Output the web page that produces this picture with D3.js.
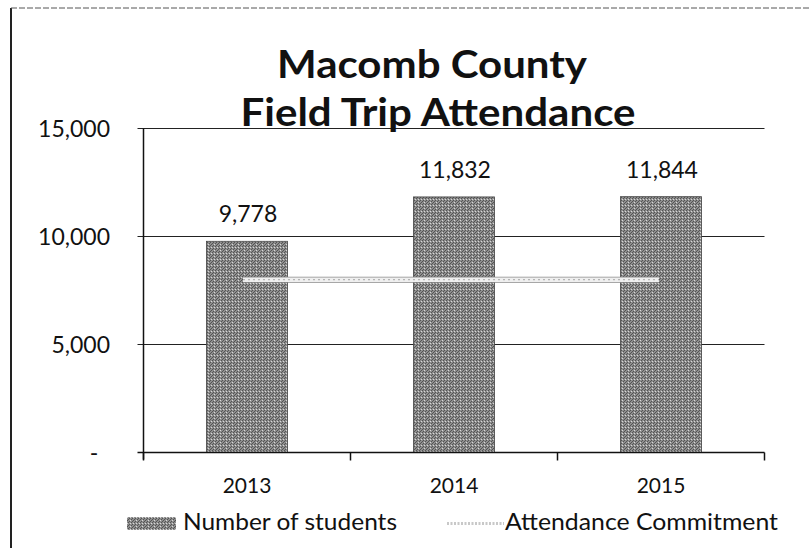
<!DOCTYPE html>
<html><head><meta charset="utf-8">
<script src="https://cdn.jsdelivr.net/npm/d3@7/dist/d3.min.js"></script>
<style>
html,body{margin:0;padding:0;background:#fff;}
svg{display:block;}
text{font-family:Lato,"Open Sans",sans-serif;fill:#111;}
</style></head>
<body><svg id="chart" width="809" height="548"></svg>
<script>
const titleLines = ["Macomb County", "Field Trip Attendance"];
const years = ["2013", "2014", "2015"];
const students = [9778, 11832, 11844];
const commitment = [8000, 8000, 8000];
const yTicks = [0, 5000, 10000, 15000];
const seriesNames = ["Number of students", "Attendance Commitment"];

const svg = d3.select("#chart");
const W = 809, H = 548;
const m = {left:143.5, right:44.5, top:128.5, bottom:95.5};
const x = d3.scaleBand().domain(years).range([m.left, W - m.right]).paddingInner(0).paddingOuter(0);
const y = d3.scaleLinear().domain([0, 15000]).range([H - m.bottom, m.top]);

// texture pattern for bars (fixed dither-like tile)
const defs = svg.append("defs");
const pat = defs.append("pattern").attr("id","tex").attr("patternUnits","userSpaceOnUse").attr("width",6).attr("height",6);
pat.append("rect").attr("width",6).attr("height",6).attr("fill","#8e8e8e");
pat.append("path").attr("d","M0,6 L6,0 M-1,1 L1,-1 M5,7 L7,5 M0,3 L3,0 M3,6 L6,3").attr("stroke","#4e4e4e").attr("stroke-width",0.9);
pat.append("path").attr("d","M1,1h1v1h-1z M4,4h1v1h-1z M4,1h1v1h-1z").attr("fill","#d8d8d8");

// outer border
svg.append("path").attr("d","M11,548 L11,8").attr("fill","none").attr("stroke","#222").attr("stroke-width",2);
svg.append("path").attr("d","M11,8 L809,8").attr("fill","none").attr("stroke","#555").attr("stroke-width",1).attr("stroke-dasharray","6,2");

// gridlines
const fmt = d => d === 0 ? "-  " : d3.format(",")(d);
svg.append("g").selectAll("line").data(yTicks.filter(d=>d>0)).join("line")
  .attr("x1", m.left - 6).attr("x2", W - m.right)
  .attr("y1", d => y(d)).attr("y2", d => y(d))
  .attr("stroke","#222").attr("stroke-width",1);

// y axis labels
svg.append("g").selectAll("text").data(yTicks).join("text")
  .attr("x", 110).attr("y", d => y(d)).attr("dy","0.35em")
  .attr("text-anchor","end").style("white-space","pre").style("font-size","23px")
  .text(fmt);

// bars
const bw = 81;
svg.append("g").selectAll("rect").data(students).join("rect")
  .attr("x", (d,i) => x(years[i]) + x.bandwidth()/2 - bw/2)
  .attr("width", bw)
  .attr("y", d => y(d)).attr("height", d => y(0) - y(d))
  .attr("fill","url(#tex)").attr("stroke","#444").attr("stroke-width",0.8);

// data labels
svg.append("g").selectAll("text").data(students).join("text")
  .attr("x", (d,i) => x(years[i]) + x.bandwidth()/2 + 1)
  .attr("y", d => y(d) - 19)
  .attr("text-anchor","middle").style("font-size","23px")
  .text(d => d3.format(",")(d));

// axes lines
svg.append("line").attr("x1", m.left).attr("x2", m.left).attr("y1", m.top).attr("y2", y(0)+7).attr("stroke","#111").attr("stroke-width",1.5);
svg.append("line").attr("x1", m.left - 6).attr("x2", W - m.right).attr("y1", y(0)).attr("y2", y(0)).attr("stroke","#111").attr("stroke-width",1.5);
const bounds = years.map(d => x(d)).concat([W - m.right]);
svg.append("g").selectAll("line").data(bounds).join("line")
  .attr("x1", d=>d).attr("x2", d=>d).attr("y1", y(0)).attr("y2", y(0)+8)
  .attr("stroke","#111").attr("stroke-width",1.5);

// x labels
svg.append("g").selectAll("text").data(years).join("text")
  .attr("x", d => x(d) + x.bandwidth()/2).attr("y", 493)
  .attr("text-anchor","middle").style("font-size","21px")
  .text(d => d);

// commitment line
const line = d3.line().x((d,i) => x(years[i]) + x.bandwidth()/2 - (i===0?4:(i===2?2:0))).y(d => y(d));
svg.append("path").datum(commitment).attr("d", line).attr("fill","none")
  .attr("stroke","#8a8a8a").attr("stroke-width",6);
svg.append("path").datum(commitment).attr("d", line).attr("fill","none")
  .attr("stroke","#efefef").attr("stroke-width",4.5);
svg.append("path").datum(commitment).attr("d", line).attr("fill","none")
  .attr("stroke","#b4b4b4").attr("stroke-width",1.2).attr("stroke-dasharray","2,3");

// title
const titleW = [310, 395];
const titleX = [432, 438];
svg.append("g").selectAll("text").data(titleLines).join("text")
  .attr("x", (d,i) => titleX[i]).attr("y", (d,i) => 78 + i*48)
  .attr("text-anchor","middle").style("font-size","39px").style("font-weight","bold")
  .attr("textLength", (d,i) => titleW[i]).attr("lengthAdjust","spacingAndGlyphs")
  .text(d => d);

// legend
const lg = svg.append("g");
lg.append("rect").attr("x",127).attr("y",517).attr("width",49).attr("height",13).attr("fill","url(#tex)");
lg.append("text").attr("x",183).attr("y",530).style("font-size","23px")
  .attr("textLength",214).attr("lengthAdjust","spacingAndGlyphs").text(seriesNames[0]);
lg.append("line").attr("x1",447).attr("x2",504).attr("y1",523.5).attr("y2",523.5).attr("stroke","#c8c8c8").attr("stroke-width",3).attr("stroke-dasharray","2,1.5");
lg.append("text").attr("x",505).attr("y",530).style("font-size","23px")
  .attr("textLength",273).attr("lengthAdjust","spacingAndGlyphs").text(seriesNames[1]);
</script></body></html>
